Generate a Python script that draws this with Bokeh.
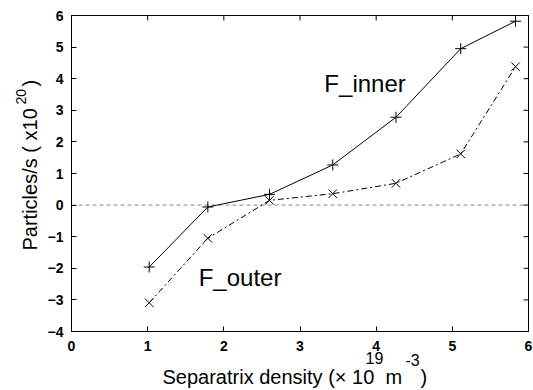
import math
from bokeh.plotting import figure
from bokeh.models import Range1d, FixedTicker, Label, BoxAnnotation
from bokeh.embed import file_html
from bokeh.resources import INLINE

density = [1.02, 1.79, 2.60, 3.43, 4.26, 5.11, 5.83]
f_inner = [-1.96, -0.06, 0.34, 1.27, 2.78, 4.95, 5.82]
f_outer = [-3.09, -1.05, 0.15, 0.36, 0.69, 1.62, 4.38]
x_ticks = [0, 1, 2, 3, 4, 5, 6]
y_ticks = [-4, -3, -2, -1, 0, 1, 2, 3, 4, 5, 6]

FONT = "Liberation Sans"
W, H = 533, 390
L, R, T, B = 71, 5, 15, 59          # page pixels around the plotting box
X0, X1, Y0, Y1 = 0, 6, -4, 6
TICK = 5

fw = W - L - R
fh = H - T - B
sx = (X1 - X0) / fw
sy = (Y1 - Y0) / fh

p = figure(width=W, height=H, output_backend="svg", toolbar_location=None,
           x_range=Range1d(X0 - L * sx, X1 + R * sx),
           y_range=Range1d(Y0 - B * sy, Y1 + T * sy),
           min_border_left=0, min_border_right=0, min_border_top=0, min_border_bottom=0)
p.grid.visible = False
p.outline_line_color = None

def dx(px):
    return X0 + (px - L) * sx
def dy(py):
    return Y1 - (py - T) * sy

xa, ya = p.xaxis[0], p.yaxis[0]
xa.fixed_location = Y0
xa.bounds = (X0, X1)
ya.fixed_location = X0
ya.bounds = (Y0, Y1)
for ax, ticks in ((xa, x_ticks), (ya, y_ticks)):
    ax.ticker = FixedTicker(ticks=ticks)
    ax.major_tick_in = TICK
    ax.major_tick_out = 0
    ax.minor_tick_line_color = None
    ax.axis_line_color = "black"
    ax.major_tick_line_color = "black"
    ax.major_label_text_font = FONT
    ax.major_label_text_font_style = "bold"
    ax.major_label_text_font_size = "14px"
    ax.major_label_text_color = "black"
xa.major_label_standoff = 9
ya.major_label_standoff = 8

# plotting box and mirrored inward ticks on top and right edges
p.add_layout(BoxAnnotation(left=X0, right=X1, bottom=Y0, top=Y1, fill_alpha=0,
                           line_color="black", line_width=1, line_alpha=1))
p.segment(x0=x_ticks, y0=[Y1] * len(x_ticks), x1=x_ticks, y1=[Y1 - TICK * sy] * len(x_ticks),
          line_color="black", line_width=1)
p.segment(x0=[X1] * len(y_ticks), y0=y_ticks, x1=[X1 - TICK * sx] * len(y_ticks), y1=y_ticks,
          line_color="black", line_width=1)

# zero reference line
p.line([X0, X1], [0, 0], line_color="#8c8c8c", line_dash="4 3", line_width=1)

p.line(density, f_inner, line_color="black", line_width=1)
p.scatter(density, f_inner, marker="cross", size=11, line_color="black", line_width=1)
p.line(density, f_outer, line_color="black", line_width=1, line_dash="6 3 2 3")
p.scatter(density, f_outer, marker="x", size=12, line_color="black", line_width=1)

p.add_layout(Label(x=3.32, y=3.86, text="F_inner", text_font=FONT, text_font_size="24px",
                   text_color="black", text_baseline="middle", text_align="left"))
p.add_layout(Label(x=1.67, y=-2.3, text="F_outer", text_font=FONT, text_font_size="24px",
                   text_color="black", text_baseline="middle", text_align="left"))

# axis titles with real superscripts (anchor = left end, vertical middle)
def put(px, py, txt, size, angle=0.0):
    p.add_layout(Label(x=dx(px), y=dy(py), text=txt, text_font=FONT, text_font_size=size,
                       text_color="black", text_align="left", text_baseline="middle",
                       angle=angle))

put(162, 376, "Separatrix density (× 10", "20px")
put(365, 357, "19", "16px")
put(385, 376, "m", "20px")
put(405, 359, "-3", "16px")
put(420, 376, ")", "20px")

put(29, 250, "Particles/s ( x10", "20px", math.pi / 2)
put(20, 104, "20", "14px", math.pi / 2)
put(29, 86, ")", "20px", math.pi / 2)

open("out.html", "w").write(file_html(p, INLINE))
